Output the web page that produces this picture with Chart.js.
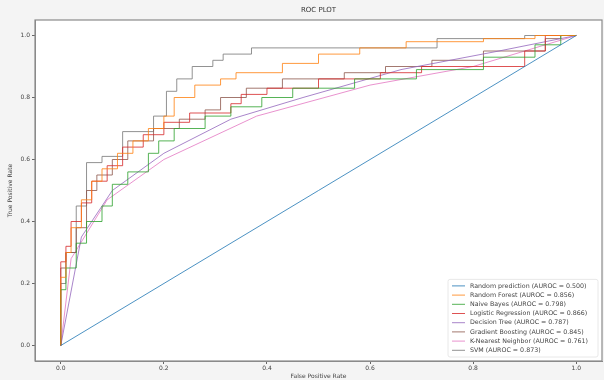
<!DOCTYPE html>
<html>
<head>
<meta charset="utf-8">
<script src="https://cdn.jsdelivr.net/npm/chart.js@4.4.0/dist/chart.umd.min.js"></script>
<style>
  html, body { margin: 0; padding: 0; background: #f4f4f4; }
  #roc { display: block; }
</style>
</head>
<body>
<canvas id="roc" width="604" height="380"></canvas>
<script>
const tickVals = [0, 0.2, 0.4, 0.6, 0.8, 1.0];

const modelNames = [
  "Random prediction (AUROC = 0.500)",
  "Random Forest (AUROC = 0.856)",
  "Naive Bayes (AUROC = 0.798)",
  "Logistic Regression (AUROC = 0.866)",
  "Decision Tree (AUROC = 0.787)",
  "Gradient Boosting (AUROC = 0.845)",
  "K-Nearest Neighbor (AUROC = 0.761)",
  "SVM (AUROC = 0.873)",
];
const lineColors = [
  "rgba(31,119,180,0.8)", "rgba(255,127,14,0.8)", "rgba(44,160,44,0.8)", "rgba(214,39,40,0.8)",
  "rgba(148,103,189,0.8)", "rgba(140,86,75,0.8)", "rgba(227,119,194,0.8)", "rgba(127,127,127,0.85)",
];

// ROC corner points (fpr / tpr)
const randFpr = [0, 1];
const randTpr = [0, 1];

const rfFpr = [0, 0, 0.01, 0.01, 0.02, 0.02, 0.04, 0.04, 0.06, 0.06, 0.08, 0.08, 0.11, 0.11, 0.14, 0.14, 0.17, 0.17, 0.2, 0.2, 0.22, 0.22, 0.26, 0.26, 0.31, 0.31, 0.34, 0.34, 0.43, 0.43, 0.5, 0.5, 0.58, 0.58, 0.67, 0.67, 0.82, 0.82, 0.92, 0.92, 1];
const rfTpr = [0, 0.22, 0.22, 0.3, 0.3, 0.38, 0.38, 0.47, 0.47, 0.53, 0.53, 0.57, 0.57, 0.62, 0.62, 0.66, 0.66, 0.7, 0.7, 0.74, 0.74, 0.8, 0.8, 0.84, 0.84, 0.86, 0.86, 0.88, 0.88, 0.91, 0.91, 0.94, 0.94, 0.96, 0.96, 0.98, 0.98, 0.99, 0.99, 1, 1];

const nbFpr = [0, 0, 0.01, 0.01, 0.03, 0.03, 0.05, 0.05, 0.08, 0.08, 0.1, 0.1, 0.13, 0.13, 0.17, 0.17, 0.19, 0.19, 0.22, 0.22, 0.28, 0.28, 0.33, 0.33, 0.39, 0.39, 0.45, 0.45, 0.57, 0.57, 0.69, 0.69, 0.82, 0.82, 0.92, 0.92, 0.97, 0.97, 1];
const nbTpr = [0, 0.18, 0.18, 0.25, 0.25, 0.33, 0.33, 0.4, 0.4, 0.45, 0.45, 0.52, 0.52, 0.56, 0.56, 0.62, 0.62, 0.66, 0.66, 0.7, 0.7, 0.74, 0.74, 0.77, 0.77, 0.8, 0.8, 0.83, 0.83, 0.86, 0.86, 0.89, 0.89, 0.93, 0.93, 0.97, 0.97, 1, 1];

const lrFpr = [0, 0, 0.01, 0.01, 0.02, 0.02, 0.04, 0.04, 0.06, 0.06, 0.09, 0.09, 0.12, 0.12, 0.16, 0.16, 0.2, 0.2, 0.25, 0.25, 0.33, 0.33, 0.35, 0.35, 0.4, 0.4, 0.5, 0.5, 0.62, 0.62, 0.7, 0.7, 0.9, 0.9, 0.94, 0.94, 1];
const lrTpr = [0, 0.27, 0.27, 0.32, 0.32, 0.4, 0.4, 0.46, 0.46, 0.53, 0.53, 0.58, 0.58, 0.64, 0.64, 0.68, 0.68, 0.72, 0.72, 0.75, 0.75, 0.78, 0.78, 0.81, 0.81, 0.83, 0.83, 0.86, 0.86, 0.88, 0.88, 0.9, 0.9, 0.95, 0.95, 1, 1];

const dtFpr = [0, 0.04, 0.1, 0.2, 0.33, 0.47, 0.66, 0.85, 1];
const dtTpr = [0, 0.35, 0.5, 0.62, 0.73, 0.8, 0.89, 0.95, 1];

const gbFpr = [0, 0, 0.01, 0.01, 0.03, 0.03, 0.05, 0.05, 0.07, 0.07, 0.1, 0.1, 0.13, 0.13, 0.18, 0.18, 0.23, 0.23, 0.28, 0.28, 0.31, 0.31, 0.36, 0.36, 0.43, 0.43, 0.55, 0.55, 0.63, 0.63, 0.72, 0.72, 0.82, 0.82, 0.94, 0.94, 0.97, 0.97, 1];
const gbTpr = [0, 0.25, 0.25, 0.3, 0.3, 0.38, 0.38, 0.5, 0.5, 0.55, 0.55, 0.6, 0.6, 0.66, 0.66, 0.7, 0.7, 0.73, 0.73, 0.76, 0.76, 0.8, 0.8, 0.83, 0.83, 0.86, 0.86, 0.88, 0.88, 0.9, 0.9, 0.92, 0.92, 0.95, 0.95, 0.99, 0.99, 1, 1];

const knnFpr = [0, 0.02, 0.09, 0.2, 0.38, 0.6, 0.8, 1];
const knnTpr = [0, 0.28, 0.47, 0.6, 0.74, 0.84, 0.9, 1];

const svmFpr = [0, 0, 0.01, 0.01, 0.03, 0.03, 0.05, 0.05, 0.08, 0.08, 0.12, 0.12, 0.18, 0.18, 0.205, 0.205, 0.225, 0.225, 0.255, 0.255, 0.295, 0.295, 0.315, 0.315, 0.37, 0.37, 0.73, 0.73, 0.9, 0.9, 1];
const svmTpr = [0, 0.2, 0.2, 0.3, 0.3, 0.45, 0.45, 0.59, 0.59, 0.61, 0.61, 0.69, 0.69, 0.74, 0.74, 0.82, 0.82, 0.86, 0.86, 0.9, 0.9, 0.92, 0.92, 0.94, 0.94, 0.96, 0.96, 0.99, 0.99, 1, 1];

const curves = [
  [randFpr, randTpr], [rfFpr, rfTpr], [nbFpr, nbTpr], [lrFpr, lrTpr],
  [dtFpr, dtTpr], [gbFpr, gbTpr], [knnFpr, knnTpr], [svmFpr, svmTpr],
];

const FONT = "'DejaVu Sans', sans-serif";
const TEXT = "#444";

// white axes face, full box frame and a matplotlib style legend inside the plot
const framePlugin = {
  id: "frame",
  beforeDraw(chart) {
    const { ctx, chartArea: a } = chart;
    ctx.save();
    ctx.fillStyle = "#ffffff";
    ctx.fillRect(a.left, a.top, a.right - a.left, a.bottom - a.top);
    ctx.restore();
  },
  afterDraw(chart) {
    const { ctx, chartArea: a } = chart;
    ctx.save();
    ctx.strokeStyle = "#8a8a8a";
    ctx.lineWidth = 1.2;
    ctx.strokeRect(a.left, a.top, a.right - a.left, a.bottom - a.top);

    const sets = chart.data.datasets;
    const rowH = 9.2;
    const boxR = a.right - 4, boxB = a.bottom - 4;
    const boxL = boxR - 150, boxT = boxB - sets.length * rowH - 4;
    ctx.fillStyle = "rgba(255,255,255,0.85)";
    ctx.strokeStyle = "#e2e2e2";
    ctx.lineWidth = 0.8;
    ctx.beginPath();
    ctx.roundRect(boxL, boxT, boxR - boxL, boxB - boxT, 2);
    ctx.fill();
    ctx.stroke();

    ctx.font = "6.3px " + FONT;
    ctx.textBaseline = "middle";
    sets.forEach((ds, i) => {
      const y = boxT + 6.5 + i * rowH;
      ctx.strokeStyle = ds.borderColor;
      ctx.lineWidth = 1;
      ctx.beginPath();
      ctx.moveTo(boxL + 4, y);
      ctx.lineTo(boxL + 17, y);
      ctx.stroke();
      ctx.fillStyle = TEXT;
      ctx.fillText(ds.label, boxL + 22, y);
    });
    ctx.restore();
  },
};

const ctx = document.getElementById("roc").getContext("2d");
new Chart(ctx, {
  type: "scatter",
  data: {
    datasets: curves.map(([fpr, tpr], i) => ({
      label: modelNames[i],
      data: fpr.map((x, j) => ({ x: x, y: tpr[j] })),
      borderColor: lineColors[i],
      backgroundColor: lineColors[i],
      showLine: true,
      borderWidth: 1,
      pointRadius: 0,
      tension: 0,
    })),
  },
  options: {
    responsive: false,
    animation: false,
    layout: { padding: { left: 0, right: 2, top: 0, bottom: 0 } },
    plugins: {
      legend: { display: false },
      tooltip: { enabled: false },
      title: {
        display: true,
        text: "ROC PLOT",
        fullSize: false,
        color: "#333",
        font: { family: FONT, size: 7, weight: "normal" },
        padding: { top: 6, bottom: 5.6 },
      },
    },
    scales: {
      x: {
        type: "linear",
        min: -0.05,
        max: 1.05,
        afterBuildTicks: (axis) => { axis.ticks = tickVals.map((v) => ({ value: v })); },
        afterFit: (axis) => { axis.height = 19; },
        ticks: {
          callback: (v) => v.toFixed(1),
          font: { family: FONT, size: 6 },
          color: TEXT,
          padding: 1,
          maxRotation: 0,
          autoSkip: false,
        },
        grid: { drawOnChartArea: false, tickLength: 3, color: "#666" },
        border: { color: "#8a8a8a" },
        title: {
          display: true,
          text: "False Positive Rate",
          color: TEXT,
          font: { family: FONT, size: 6 },
          padding: { top: 0, bottom: 0 },
        },
      },
      y: {
        type: "linear",
        min: -0.05,
        max: 1.05,
        afterBuildTicks: (axis) => { axis.ticks = tickVals.map((v) => ({ value: v })); },
        afterFit: (axis) => { axis.width = 35; },
        ticks: {
          callback: (v) => v.toFixed(1),
          font: { family: FONT, size: 6 },
          color: TEXT,
          padding: 2,
          autoSkip: false,
        },
        grid: { drawOnChartArea: false, tickLength: 3, color: "#666" },
        border: { color: "#8a8a8a" },
        title: {
          display: true,
          text: "True Positive Rate",
          color: TEXT,
          font: { family: FONT, size: 6 },
          padding: { top: 6.4, bottom: 0 },
        },
      },
    },
  },
  plugins: [framePlugin],
});
</script>
</body>
</html>
